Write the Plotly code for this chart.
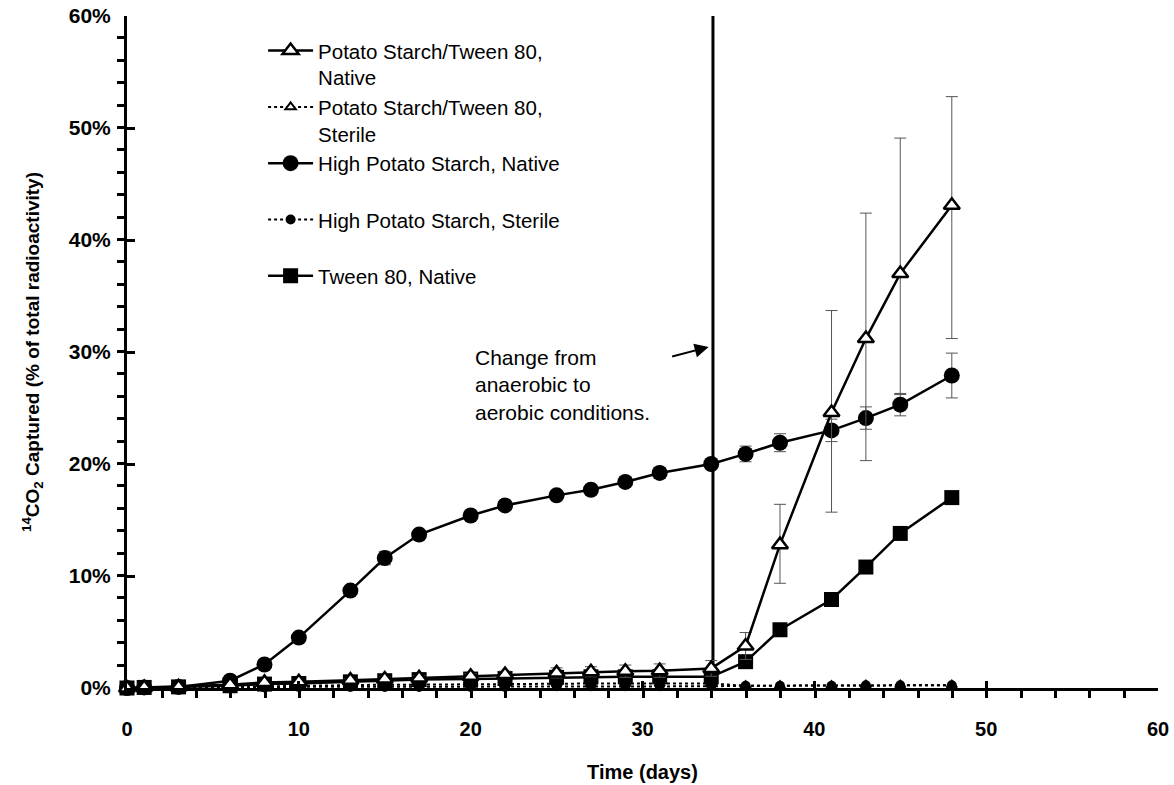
import plotly.graph_objects as go

# ---------------- data ----------------
days = [0, 1, 3, 6, 8, 10, 13, 15, 17, 20, 22, 25, 27, 29, 31, 34, 36, 38, 41, 43, 45, 48]

ps_t80_native = [0.0, 0.05, 0.1, 0.3, 0.5, 0.55, 0.7, 0.8, 0.9, 1.05, 1.2, 1.35, 1.45, 1.5, 1.55, 1.75,
                 3.75, 12.8, 24.6, 31.2, 37.0, 43.1]
ps_t80_native_err_plus = [0, 0, 0, 0.1, 0.1, 0.1, 0.15, 0.2, 0.2, 0.25, 0.3, 0.45, 0.45, 0.55, 0.6, 0.7,
                          1.2, 3.6, 9.1, 11.2, 12.1, 9.7]
ps_t80_native_err_minus = [0, 0, 0, 0.1, 0.1, 0.1, 0.15, 0.2, 0.2, 0.25, 0.3, 0.45, 0.45, 0.55, 0.6, 0.7,
                           1.2, 3.45, 8.9, 10.9, 10.8, 11.9]

ps_t80_sterile = [0.0, 0.0, 0.05, 0.1, 0.15, 0.2, 0.25, 0.3, 0.3, 0.35, 0.35, 0.4, 0.4, 0.4, 0.4, 0.4,
                  0.2, 0.2, 0.2, 0.25, 0.25, 0.25]

hps_native = [0.0, 0.05, 0.1, 0.65, 2.1, 4.5, 8.7, 11.6, 13.7, 15.4, 16.3, 17.2, 17.7, 18.4, 19.2, 20.0,
              20.9, 21.9, 23.0, 24.1, 25.3, 27.9]
hps_native_err = [0, 0, 0, 0.1, 0.2, 0.3, 0.3, 0.6, 0.3, 0.3, 0.3, 0.3, 0.3, 0.4, 0.5, 0.3,
                  0.7, 0.8, 1.0, 1.0, 1.0, 2.0]

hps_sterile = [0.0, 0.0, 0.05, 0.05, 0.05, 0.1, 0.1, 0.1, 0.1, 0.1, 0.1, 0.15, 0.15, 0.15, 0.15, 0.15,
               0.2, 0.2, 0.2, 0.25, 0.25, 0.25]

t80_native = [0.0, 0.05, 0.1, 0.2, 0.35, 0.4, 0.55, 0.65, 0.75, 0.8, 0.85, 0.95, 1.0, 1.0, 1.0, 1.0,
              2.35, 5.2, 7.9, 10.8, 13.8, 17.0]

series_names = [
    "Potato Starch/Tween 80,<br>Native",
    "Potato Starch/Tween 80,<br>Sterile",
    "High Potato Starch, Native<br> ",
    "High Potato Starch, Sterile<br> ",
    "Tween 80, Native",
]

# axis ticks: labelled major ticks every 10, small tick marks every 2
axis_range = [0, 60]
major_step = 10
minor_step = 2
minor_offset = 0.04   # keeps the outer tick marks from being dropped at the major positions

change_day = 34.1
annotation_text = "Change from<br>anaerobic to<br>aerobic conditions."
x_title = "Time (days)"
y_title = "<sup>14</sup>CO<sub>2</sub> Captured (% of total radioactivity)"

FONT = "Liberation Sans, Arial, sans-serif"
ERR_COLOR = "#555555"

fig = go.Figure()

# sterile series first (lowest layer)
fig.add_trace(go.Scatter(
    x=days, y=ps_t80_sterile, name=series_names[1], legendrank=2, mode="lines+markers",
    line=dict(color="black", width=2, dash="dot"),
    marker=dict(symbol="triangle-up", size=9, color="white", line=dict(color="black", width=2)),
    cliponaxis=False,
))
fig.add_trace(go.Scatter(
    x=days, y=hps_sterile, name=series_names[3], legendrank=4, mode="lines+markers",
    line=dict(color="black", width=2, dash="dot"),
    marker=dict(symbol="circle", size=10, color="black"),
    cliponaxis=False,
))
fig.add_trace(go.Scatter(
    x=days, y=t80_native, name=series_names[4], legendrank=5, mode="lines+markers",
    line=dict(color="black", width=2.5),
    marker=dict(symbol="square", size=15, color="black"),
    cliponaxis=False,
))
fig.add_trace(go.Scatter(
    x=days, y=hps_native, name=series_names[2], legendrank=3, mode="lines+markers",
    line=dict(color="black", width=2.5),
    marker=dict(symbol="circle", size=16, color="black"),
    error_y=dict(type="data", array=hps_native_err, color=ERR_COLOR, thickness=1, width=6),
    cliponaxis=False,
))
fig.add_trace(go.Scatter(
    x=days, y=ps_t80_native, name=series_names[0], legendrank=1, mode="lines+markers",
    line=dict(color="black", width=2.5),
    marker=dict(symbol="triangle-up", size=14, color="white", line=dict(color="black", width=2.5)),
    error_y=dict(type="data", symmetric=False, array=ps_t80_native_err_plus,
                 arrayminus=ps_t80_native_err_minus, color=ERR_COLOR, thickness=1, width=6),
    cliponaxis=False,
))

fig.update_layout(
    template="none",
    width=1174, height=785,
    margin=dict(l=127, r=16, t=16, b=97, autoexpand=False),
    paper_bgcolor="white", plot_bgcolor="rgba(0,0,0,0)",
    font=dict(family=FONT, color="black"),
    showlegend=True,
    legend=dict(
        x=0.132, y=0.978, xanchor="left", yanchor="top",
        font=dict(family=FONT, size=20.5, color="black"),
        bgcolor="rgba(0,0,0,0)", itemwidth=45, valign="top",
        traceorder="normal", tracegroupgap=0,
    ),
    xaxis=dict(
        range=axis_range, tickmode="linear", tick0=0, dtick=major_step,
        automargin=False, layer="above traces",
        showline=True, linewidth=3, linecolor="black", mirror=False,
        showgrid=False, zeroline=False,
        ticks="inside", ticklen=7, tickwidth=3, tickcolor="black",
        minor=dict(tick0=minor_offset, dtick=minor_step, ticks="outside", ticklen=7,
                   tickwidth=2.5, tickcolor="black", showgrid=False),
        tickfont=dict(family=FONT, size=20, color="black", weight="bold"),
        ticklabelstandoff=21,
        title=dict(text=x_title, font=dict(family=FONT, size=20, color="black", weight="bold"),
                   standoff=26),
    ),
    yaxis=dict(
        range=axis_range, tickmode="linear", tick0=0, dtick=major_step, ticksuffix="%",
        automargin=False, layer="above traces",
        showline=True, linewidth=3, linecolor="black",
        showgrid=False, zeroline=False,
        ticks="inside", ticklen=8, tickwidth=3, tickcolor="black",
        minor=dict(tick0=minor_offset, dtick=minor_step, ticks="outside", ticklen=7,
                   tickwidth=2.5, tickcolor="black", showgrid=False),
        tickfont=dict(family=FONT, size=21, color="black", weight="bold"),
        ticklabelstandoff=9,
        title=dict(text=y_title, font=dict(family=FONT, size=19, color="black", weight="bold"),
                   standoff=25),
    ),
)

# vertical line marking the switch to aerobic conditions
fig.add_shape(type="line", xref="x", yref="y", x0=change_day, x1=change_day, y0=0, y1=60,
              line=dict(color="black", width=3), layer="below")

# annotation text and arrow
fig.add_annotation(
    x=20.14, y=30.7, xref="x", yref="y", xanchor="left", yanchor="top",
    text=annotation_text, showarrow=False, align="left",
    font=dict(family=FONT, size=21, color="black"),
)
fig.add_annotation(
    x=33.85, y=30.45, xref="x", yref="y", text="", showarrow=True,
    ax=-38, ay=10, arrowhead=2, arrowsize=1.4, arrowwidth=2, arrowcolor="black", standoff=0,
)

fig.write_html("out.html")
